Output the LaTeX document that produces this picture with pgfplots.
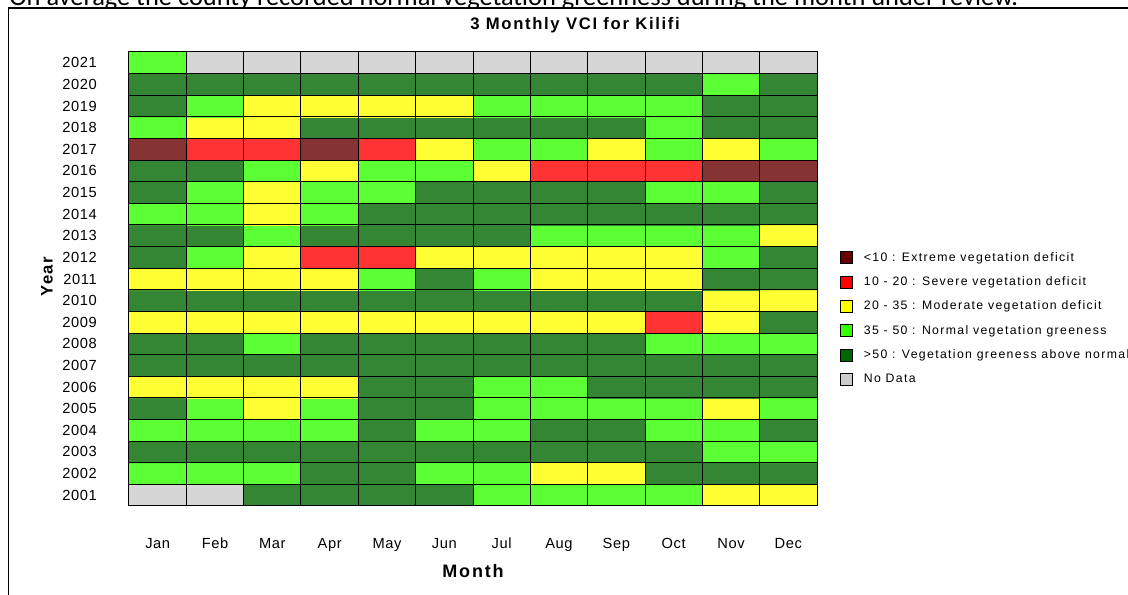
\documentclass[border=0pt]{standalone}
\usepackage{fontspec}
\setmainfont{Liberation Sans}
\newfontfamily\tickfont[LetterSpace=4]{Liberation Sans}
\newfontfamily\legfont[LetterSpace=11]{Liberation Sans}
\newfontfamily\labfont[LetterSpace=10]{Liberation Sans}
\newfontfamily\docfont{Carlito}
\usepackage{pgfplots}
\pgfplotsset{compat=1.18}
\definecolor{cExt}{RGB}{102,0,0}
\definecolor{cSev}{RGB}{255,0,0}
\definecolor{cMod}{RGB}{255,255,0}
\definecolor{cNor}{RGB}{51,255,0}
\definecolor{cAbv}{RGB}{0,102,0}
\definecolor{cNod}{RGB}{204,204,204}
\begin{document}
\begin{tikzpicture}
\path[use as bounding box] (-96.75pt,-66.75pt) rectangle (749.25pt,379.5pt);
\node[anchor=base west, inner sep=0pt, font=\docfont\fontsize{19.8}{24}\selectfont] at (-90pt,375.5pt) {On average the county recorded normal vegetation greenness during the month under review.};
\draw[line width=1.2pt, fill=white] (-90.4pt,-90pt) rectangle (780pt,373.35pt);
\begin{axis}[
  at={(0pt,0pt)}, anchor=south west,
  scale only axis, width=516pt, height=340.5pt,
  xmin=-0.5, xmax=11.5, ymin=-0.5, ymax=20.5,
  xtick={0,...,11},
  xticklabels={Jan,Feb,Mar,Apr,May,Jun,Jul,Aug,Sep,Oct,Nov,Dec},
  ytick={0,...,20},
  yticklabels={2001,2002,2003,2004,2005,2006,2007,2008,2009,2010,2011,2012,2013,2014,2015,2016,2017,2018,2019,2020,2021},
  major tick length=0pt, minor tick length=0pt,
  minor xtick={-0.5,0.5,...,11.5},
  minor ytick={-0.5,0.5,...,20.5},
  xminorgrids, yminorgrids,
  minor grid style={black, line width=0.75pt},
  axis on top,
  axis line style={black, line width=0.75pt},
  xticklabel style={font=\tickfont\fontsize{11}{13}\selectfont, anchor=base, inner sep=0pt, yshift=-32.25pt},
  yticklabel style={font=\tickfont\fontsize{11}{13}\selectfont, anchor=east, inner sep=0pt, xshift=-24pt},
  xlabel={Month},
  xlabel style={font=\labfont\bfseries\fontsize{13.5}{16}\selectfont, at={(axis description cs:0.5,-0.1571)}, anchor=base, inner sep=0pt},
  ylabel={Year},
  ylabel style={font=\labfont\bfseries\fontsize{12.5}{15}\selectfont, at={(axis description cs:-0.1192,0.505)}, anchor=center, inner sep=0pt},
  title={3 Monthly VCI for Kilifi},
  title style={font=\labfont\bfseries\fontsize{12.5}{15}\selectfont, at={(axis description cs:0.6483,1.0309)}, anchor=base, inner sep=0pt},
  colormap={vci}{rgb255=(133,51,51) rgb255=(255,51,51) rgb255=(255,255,51) rgb255=(92,255,51) rgb255=(51,133,51) rgb255=(214,214,214)},
  point meta min=0, point meta max=5,
  legend style={at={(1.0334,0.5746)}, anchor=north west, draw=none, fill=none, inner xsep=0pt, inner ysep=0pt,
    font=\legfont\fontsize{9.2}{11}\selectfont, nodes={inner sep=0pt, minimum height=18.3pt}, row sep=0pt},
  legend cell align=left,
  legend image code/.code={\draw[#1, line width=0.6pt] (0pt,-4.5pt) rectangle (9pt,4.5pt); \path (17.25pt,0pt);},
]
\addplot[matrix plot*, mesh/cols=12, point meta=explicit, forget plot] coordinates {
(0,0)[5] (1,0)[5] (2,0)[4] (3,0)[4] (4,0)[4] (5,0)[4] (6,0)[3] (7,0)[3] (8,0)[3] (9,0)[3] (10,0)[2] (11,0)[2]
(0,1)[3] (1,1)[3] (2,1)[3] (3,1)[4] (4,1)[4] (5,1)[3] (6,1)[3] (7,1)[2] (8,1)[2] (9,1)[4] (10,1)[4] (11,1)[4]
(0,2)[4] (1,2)[4] (2,2)[4] (3,2)[4] (4,2)[4] (5,2)[4] (6,2)[4] (7,2)[4] (8,2)[4] (9,2)[4] (10,2)[3] (11,2)[3]
(0,3)[3] (1,3)[3] (2,3)[3] (3,3)[3] (4,3)[4] (5,3)[3] (6,3)[3] (7,3)[4] (8,3)[4] (9,3)[3] (10,3)[3] (11,3)[4]
(0,4)[4] (1,4)[3] (2,4)[2] (3,4)[3] (4,4)[4] (5,4)[4] (6,4)[3] (7,4)[3] (8,4)[3] (9,4)[3] (10,4)[2] (11,4)[3]
(0,5)[2] (1,5)[2] (2,5)[2] (3,5)[2] (4,5)[4] (5,5)[4] (6,5)[3] (7,5)[3] (8,5)[4] (9,5)[4] (10,5)[4] (11,5)[4]
(0,6)[4] (1,6)[4] (2,6)[4] (3,6)[4] (4,6)[4] (5,6)[4] (6,6)[4] (7,6)[4] (8,6)[4] (9,6)[4] (10,6)[4] (11,6)[4]
(0,7)[4] (1,7)[4] (2,7)[3] (3,7)[4] (4,7)[4] (5,7)[4] (6,7)[4] (7,7)[4] (8,7)[4] (9,7)[3] (10,7)[3] (11,7)[3]
(0,8)[2] (1,8)[2] (2,8)[2] (3,8)[2] (4,8)[2] (5,8)[2] (6,8)[2] (7,8)[2] (8,8)[2] (9,8)[1] (10,8)[2] (11,8)[4]
(0,9)[4] (1,9)[4] (2,9)[4] (3,9)[4] (4,9)[4] (5,9)[4] (6,9)[4] (7,9)[4] (8,9)[4] (9,9)[4] (10,9)[2] (11,9)[2]
(0,10)[2] (1,10)[2] (2,10)[2] (3,10)[2] (4,10)[3] (5,10)[4] (6,10)[3] (7,10)[2] (8,10)[2] (9,10)[2] (10,10)[4] (11,10)[4]
(0,11)[4] (1,11)[3] (2,11)[2] (3,11)[1] (4,11)[1] (5,11)[2] (6,11)[2] (7,11)[2] (8,11)[2] (9,11)[2] (10,11)[3] (11,11)[4]
(0,12)[4] (1,12)[4] (2,12)[3] (3,12)[4] (4,12)[4] (5,12)[4] (6,12)[4] (7,12)[3] (8,12)[3] (9,12)[3] (10,12)[3] (11,12)[2]
(0,13)[3] (1,13)[3] (2,13)[2] (3,13)[3] (4,13)[4] (5,13)[4] (6,13)[4] (7,13)[4] (8,13)[4] (9,13)[4] (10,13)[4] (11,13)[4]
(0,14)[4] (1,14)[3] (2,14)[2] (3,14)[3] (4,14)[3] (5,14)[4] (6,14)[4] (7,14)[4] (8,14)[4] (9,14)[3] (10,14)[3] (11,14)[4]
(0,15)[4] (1,15)[4] (2,15)[3] (3,15)[2] (4,15)[3] (5,15)[3] (6,15)[2] (7,15)[1] (8,15)[1] (9,15)[1] (10,15)[0] (11,15)[0]
(0,16)[0] (1,16)[1] (2,16)[1] (3,16)[0] (4,16)[1] (5,16)[2] (6,16)[3] (7,16)[3] (8,16)[2] (9,16)[3] (10,16)[2] (11,16)[3]
(0,17)[3] (1,17)[2] (2,17)[2] (3,17)[4] (4,17)[4] (5,17)[4] (6,17)[4] (7,17)[4] (8,17)[4] (9,17)[3] (10,17)[4] (11,17)[4]
(0,18)[4] (1,18)[3] (2,18)[2] (3,18)[2] (4,18)[2] (5,18)[2] (6,18)[3] (7,18)[3] (8,18)[3] (9,18)[3] (10,18)[4] (11,18)[4]
(0,19)[4] (1,19)[4] (2,19)[4] (3,19)[4] (4,19)[4] (5,19)[4] (6,19)[4] (7,19)[4] (8,19)[4] (9,19)[4] (10,19)[3] (11,19)[4]
(0,20)[3] (1,20)[5] (2,20)[5] (3,20)[5] (4,20)[5] (5,20)[5] (6,20)[5] (7,20)[5] (8,20)[5] (9,20)[5] (10,20)[5] (11,20)[5]
};
\addlegendimage{fill=cExt, draw=black}
\addlegendentry{<10 : Extreme vegetation deficit}
\addlegendimage{fill=cSev, draw=black}
\addlegendentry{10 - 20 : Severe vegetation deficit}
\addlegendimage{fill=cMod, draw=black}
\addlegendentry{20 - 35 : Moderate vegetation deficit}
\addlegendimage{fill=cNor, draw=black}
\addlegendentry{35 - 50 : Normal vegetation greeness}
\addlegendimage{fill=cAbv, draw=black}
\addlegendentry{>50 : Vegetation greeness above normal}
\addlegendimage{fill=cNod, draw=black}
\addlegendentry{No Data}
\end{axis}
\end{tikzpicture}
\end{document}
